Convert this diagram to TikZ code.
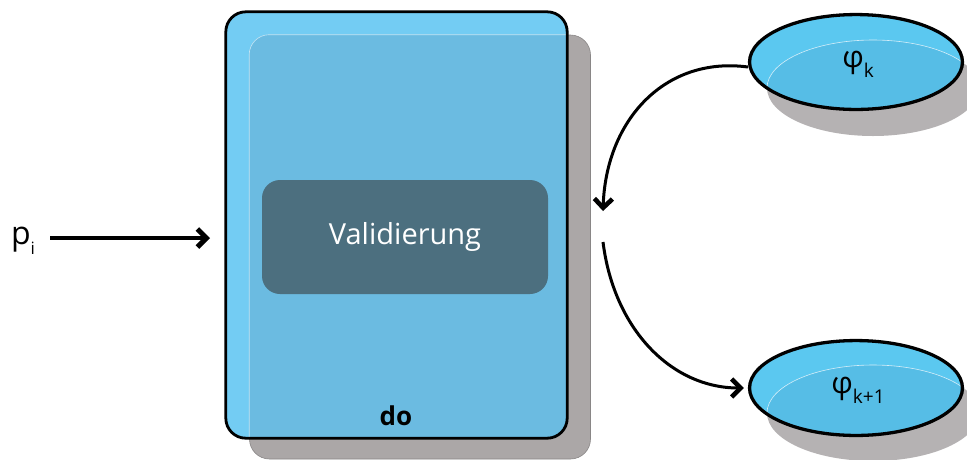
\documentclass[tikz,border=0pt]{standalone}
\usepackage{fontspec}
\setmainfont{Open Sans}
\usetikzlibrary{shapes.geometric,arrows.meta}
\definecolor{boxblue}{HTML}{73CCF3}
\definecolor{boxover}{HTML}{6BBBE1}
\definecolor{shadowgray}{HTML}{ABA7A7}
\definecolor{valfill}{HTML}{4C6F7F}
\definecolor{ellblue}{HTML}{5BC8F0}
\definecolor{ellover}{HTML}{56BDE6}
\definecolor{ellshadow}{HTML}{B5B2B3}
\tikzset{
  mainbox/.style={rectangle, rounded corners=20pt, minimum width=341pt, minimum height=426pt, fill=boxblue, inner sep=0pt},
  shadowbox/.style={rectangle, rounded corners=20pt, minimum width=341pt, minimum height=424pt, fill=shadowgray, draw=shadowgray!80!black, line width=0.6pt, inner sep=0pt},
  valbox/.style={rectangle, rounded corners=18pt, minimum width=286pt, minimum height=114pt, fill=valfill, text=white, font=\fontsize{29}{34}\selectfont, inner sep=0pt},
  store/.style={ellipse, minimum width=214pt, minimum height=96pt, fill=ellblue, draw=black, line width=2.2pt, inner sep=0pt, font=\fontsize{26}{30}\selectfont},
  storeshadow/.style={ellipse, minimum width=212pt, minimum height=96pt, fill=ellshadow, inner sep=0pt},
  flow/.style={draw=black, line width=3pt, -{Straight Barb[length=9pt, width=18pt, line width=4.6pt]}},
  inflow/.style={draw=black, line width=4.2pt, -{Straight Barb[length=9pt, width=18pt, line width=5pt]}},
}
\newcommand{\lowsub}[2]{\raisebox{-0.33em}{\fontsize{#1}{#1}\selectfont #2}}
\begin{document}
\begin{tikzpicture}[x=1pt,y=-1pt]
\useasboundingbox (0,0) rectangle (967,459);
% main box
\node[shadowbox] (boxsh) at (420,247) {};
\node[mainbox] (box) at (396.5,225) {};
\begin{scope}
  \clip[rounded corners=20pt] (box.north west) rectangle (box.south east);
  \fill[boxover, rounded corners=20pt] (boxsh.north west) rectangle (boxsh.south east);
  \draw[white!60!boxover, line width=0.6pt, rounded corners=20pt] (boxsh.north west) rectangle (boxsh.south east);
\end{scope}
\draw[black, line width=2.8pt, rounded corners=20pt] (box.north west) rectangle (box.south east);
\node[valbox] (val) at (405,237) {Validierung};
\node[font=\bfseries\fontsize{26}{30}\selectfont, anchor=base] (do) at (396,425) {do};
% input
\node[font=\fontsize{32}{36}\selectfont, anchor=base] (p) at (23,244) {p\lowsub{17}{i}};
\coordinate (pend) at (210,238);
\coordinate (pstart) at (50,238);
\draw[inflow] (pstart) -- (pend);
% stores
\node[storeshadow] (s1sh) at (873,88) {};
\node[store] (s1) at (856,62) {};
\begin{scope}
  \clip (s1) ellipse [x radius=106pt, y radius=47pt];
  \fill[ellover] (s1sh) ellipse [x radius=106pt, y radius=48pt];
  \draw[white!75!ellover, line width=0.6pt] (s1sh) ellipse [x radius=106pt, y radius=48pt];
\end{scope}
\draw[black, line width=2.4pt] (s1) ellipse [x radius=106pt, y radius=47pt];
\node[font=\fontsize{30}{34}\selectfont] (t1) at (858,64) {φ\lowsub{19}{k}};

\node[storeshadow] (s2sh) at (873,413) {};
\node[store] (s2) at (856,388) {};
\begin{scope}
  \clip (s2) ellipse [x radius=106pt, y radius=47pt];
  \fill[ellover] (s2sh) ellipse [x radius=106pt, y radius=48pt];
  \draw[white!75!ellover, line width=0.6pt] (s2sh) ellipse [x radius=106pt, y radius=48pt];
\end{scope}
\draw[black, line width=2.4pt] (s2) ellipse [x radius=106pt, y radius=47pt];
\node[font=\fontsize{30}{34}\selectfont] (t2) at (858,390) {φ\lowsub{19}{k+1}};
% flows
\coordinate (c1) at (603,211);
\coordinate (c2) at (603,242);
\draw[flow] ([yshift=-5pt]s1.west) .. controls (665,56) and (606,120) .. (c1);
\draw[flow] (c2) .. controls (614,330) and (672,388) .. ([xshift=-4pt]s2.west);
\end{tikzpicture}
\end{document}
